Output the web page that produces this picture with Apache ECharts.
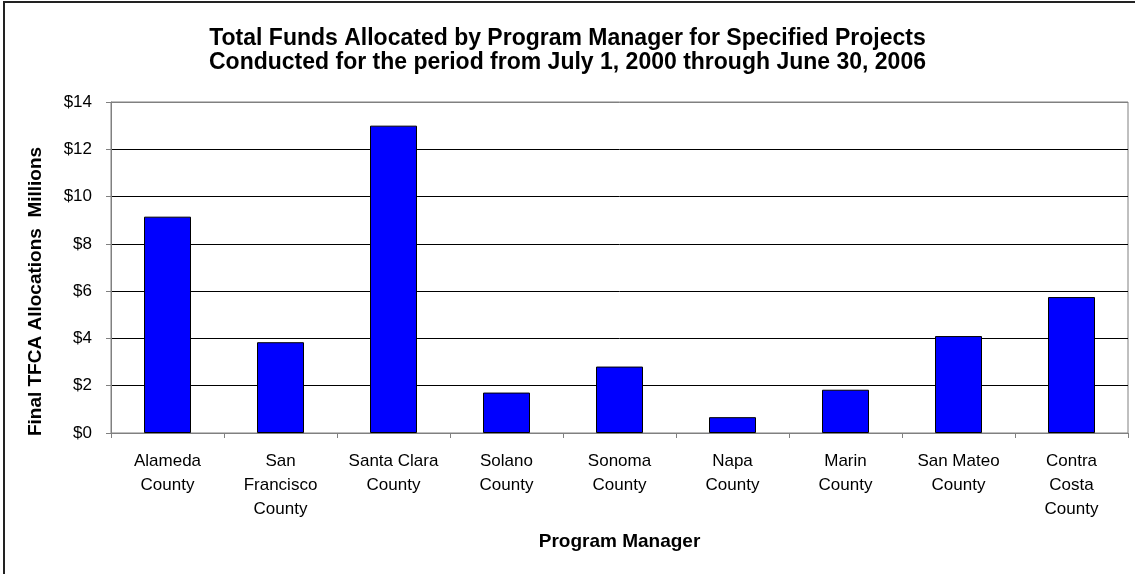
<!DOCTYPE html>
<html>
<head>
<meta charset="utf-8">
<script src="https://cdn.jsdelivr.net/npm/echarts@6/dist/echarts.min.js"></script>
<style>
	html, body { margin: 0; padding: 0; background: #fff; overflow: hidden; }
	#wrap { position: relative; width: 1135px; height: 574px; overflow: hidden; }
	#frame { position: absolute; left: 3px; top: 1px; width: 1200px; height: 700px; border-left: 2px solid #222; border-top: 2px solid #222; }
	#chart { position: absolute; left: 0; top: 0; width: 1135px; height: 574px; }
</style>
</head>
<body>
<div id="wrap">
	<div id="frame"></div>
	<div id="chart"></div>
</div>
<script>
;(function(){
	// data (millions of dollars)
	var managers = ['Alameda\nCounty', 'San\nFrancisco\nCounty', 'Santa Clara\nCounty', 'Solano\nCounty',
		'Sonoma\nCounty', 'Napa\nCounty', 'Marin\nCounty', 'San Mateo\nCounty', 'Contra\nCosta\nCounty'];
	var funds = [9.15, 3.84, 13.0, 1.71, 2.81, 0.67, 1.83, 4.1, 5.75];
	var yTicks = [0, 2, 4, 6, 8, 10, 12, 14];

	var chart = echarts.init(document.getElementById('chart'));
	var font = 'Arial, "Liberation Sans", sans-serif';

	// $0 and $14 lines are the plot border (grey), the rest black
	var lineColors = yTicks.map(function(v, i){
		return (i === 0 || i === yTicks.length - 1) ? '#808080' : '#000';
	});

	var option = {
		animation: false,
		textStyle: { fontFamily: font },
		title: {
			text: 'Total Funds Allocated by Program Manager for Specified Projects\nConducted for the period from July 1, 2000 through June 30, 2006',
			left: 'center',
			top: 22,
			textStyle: { fontFamily: font, fontSize: 23, fontWeight: 'bold', color: '#000', lineHeight: 24 }
		},
		grid: {
			left: 111,
			right: 7,
			top: 102,
			bottom: 141,
			show: true,
			borderColor: '#808080',
			borderWidth: 1
		},
		xAxis: {
			type: 'category',
			data: managers,
			name: 'Program Manager',
			nameLocation: 'middle',
			nameGap: 99,
			nameTextStyle: { fontFamily: font, fontSize: 19, fontWeight: 'bold', color: '#000' },
			axisLine: { lineStyle: { color: '#808080', width: 1 } },
			axisTick: { show: true, length: 5, lineStyle: { color: '#808080' } },
			axisLabel: { color: '#000', fontSize: 17, lineHeight: 24, margin: 16, interval: 0 }
		},
		yAxis: {
			type: 'value',
			min: 0,
			max: 14,
			interval: 2,
			name: 'Final TFCA Allocations  Millions',
			nameLocation: 'middle',
			nameGap: 66,
			nameTextStyle: { fontFamily: font, fontSize: 19, fontWeight: 'bold', color: '#000', padding: [0, 48, 0, 0] },
			axisLine: { show: true, lineStyle: { color: '#808080', width: 1 } },
			axisTick: { show: true, length: 5, lineStyle: { color: '#808080' } },
			axisLabel: { color: '#000', fontSize: 17, margin: 19, formatter: function(v){ return '$' + v; } },
			splitLine: { show: true, lineStyle: { color: lineColors, width: 1 } }
		},
		series: [
			{
				name: 'Funds',
				type: 'bar',
				data: funds,
				barWidth: 47,
				itemStyle: { color: '#0000ff', borderColor: '#000', borderWidth: 1 }
			}
		]
	};
	chart.setOption(option);
}());
</script>
</body>
</html>
